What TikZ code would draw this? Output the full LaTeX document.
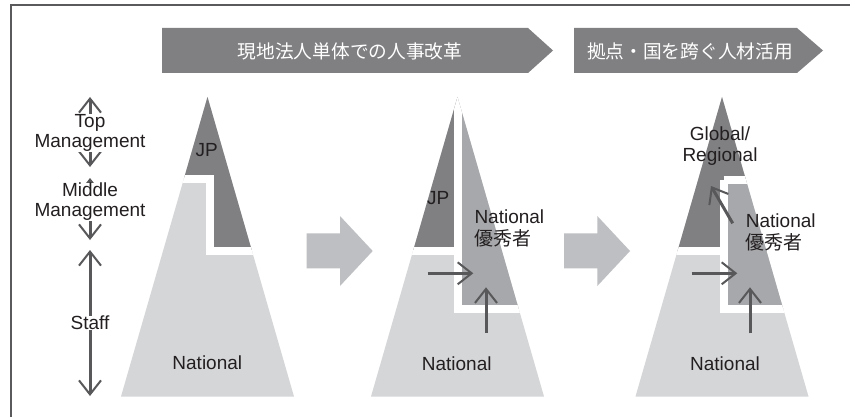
\documentclass[tikz,border=0pt]{standalone}
\usepackage{fontspec}
\setmainfont{Liberation Sans}
\newfontfamily\cjk{Noto Sans CJK JP}
\usetikzlibrary{arrows.meta}
\definecolor{dk}{RGB}{128,128,131}
\definecolor{md}{RGB}{167,168,171}
\definecolor{lt}{RGB}{213,214,216}
\definecolor{blk}{RGB}{190,191,194}
\definecolor{ar}{RGB}{88,88,90}
\definecolor{txt}{RGB}{35,31,32}
\definecolor{frame}{RGB}{90,90,92}
\tikzset{
  lbl/.style={font=\fontsize{19}{21}\selectfont, text=txt, inner sep=0pt, align=center},
  lbll/.style={font=\fontsize{19}{22}\selectfont, text=txt, inner sep=0pt, align=left, anchor=west},
  axlbl/.style={font=\fontsize{19}{20}\selectfont, text=txt, fill=white, inner sep=0.5pt, align=center},
  bannertext/.style={font=\cjk\fontsize{18.7}{20}\selectfont, text=white, inner sep=0pt},
  barb/.tip={Straight Barb[length=14pt,width=22pt,line width=2pt]},
  arr/.style={draw=ar, line width=3pt, -barb},
  axarr/.style={draw=ar, line width=3pt, barb-barb},
  gap/.style={draw=white, line width=8pt, line join=miter},
}
\begin{document}
\begin{tikzpicture}[x=1pt,y=-1pt]
\useasboundingbox (0,0) rectangle (850,417);
\fill[white] (0,0) rectangle (850,417);
% frame
\draw[frame, line width=1.5pt] (11,417) -- (11,5) -- (850,5);
% banners
\fill[dk] (162,28) -- (528,28) -- (553,50.5) -- (528,73) -- (162,73) -- cycle;
\fill[dk] (574,28) -- (797,28) -- (823,50.5) -- (797,73) -- (574,73) -- cycle;
\node[bannertext] (b1) at (350,51) {現地法人単体での人事改革};
\node[bannertext] (b2) at (690,51) {拠点・国を跨ぐ人材活用};
% block arrows
\fill[blk] (306.7,233.3) -- (340,233.3) -- (340,216) -- (372.7,251) -- (340,286) -- (340,268.3) -- (306.7,268.3) -- cycle;
\fill[blk] (564,233.3) -- (597.3,233.3) -- (597.3,216) -- (630,251) -- (597.3,286) -- (597.3,268.3) -- (564,268.3) -- cycle;
% pyramid 1
\begin{scope}
\clip (207.5,97) -- (121,396.5) -- (294,396.5) -- cycle;
\fill[lt] (100,80) rectangle (320,400);
\fill[dk] (100,80) -- (100,178.5) -- (209.5,178.5) -- (209.5,251) -- (320,251) -- (320,80) -- cycle;
\draw[gap] (100,178.5) -- (209.5,178.5) -- (209.5,251) -- (320,251);
\end{scope}
% pyramid 2
\begin{scope}
\clip (457.5,97) -- (371,396.5) -- (544,396.5) -- cycle;
\fill[lt] (350,80) rectangle (570,400);
\fill[dk] (350,80) rectangle (457.5,251);
\fill[md] (457.5,80) rectangle (570,309);
\draw[gap] (350,251) -- (457.5,251);
\draw[gap] (457.5,80) -- (457.5,309) -- (570,309);
\end{scope}
% pyramid 3
\begin{scope}
\clip (722,97) -- (635.5,396.5) -- (808.5,396.5) -- cycle;
\fill[lt] (610,80) rectangle (830,400);
\fill[dk] (610,80) -- (610,251) -- (723.5,251) -- (723.5,180) -- (830,180) -- (830,80) -- cycle;
\fill[md] (723.5,180) rectangle (830,309);
\draw[gap] (610,251) -- (723.5,251);
\draw[gap] (723.5,180) -- (723.5,309) -- (830,309);
\draw[gap] (723.5,180) -- (830,180);
\end{scope}
% labels pyramid 1
\node[lbl] (jp1) at (206.7,150) {JP};
\node[lbl] (nat1) at (207.3,362.7) {National};
% labels pyramid 2
\node[lbl] (jp2) at (438.3,198.3) {JP};
\node[lbll] (nx2) at (474.3,228.3) {National\\{\cjk 優秀者}};
\node[lbl] (nat2) at (456.7,363.3) {National};
% labels pyramid 3
\node[lbl] (gr3) at (720,146) {Global/\\Regional};
\node[lbll] (nx3) at (745.7,232.5) {National\\{\cjk 優秀者}};
\node[lbl] (nat3) at (725,363.3) {National};
% small arrows
\coordinate (h2a) at (427.7,273.3); \coordinate (h2b) at (473.3,273.3);
\coordinate (v2a) at (486,332.7); \coordinate (v2b) at (486,287.3);
\coordinate (h3a) at (691.7,273.3); \coordinate (h3b) at (737.3,273.3);
\coordinate (v3a) at (750,333.3); \coordinate (v3b) at (750,287.3);
\coordinate (d3a) at (732.7,223.3); \coordinate (d3b) at (711,186);
\draw[arr] (h2a) -- (h2b);
\draw[arr] (v2a) -- (v2b);
\draw[arr] (h3a) -- (h3b);
\draw[arr] (v3a) -- (v3b);
\draw[arr] (d3a) -- (d3b);
% left axis
\coordinate (t1) at (90,97); \coordinate (t2) at (90,167);
\coordinate (m1) at (90,178); \coordinate (m2) at (90,240);
\coordinate (s1) at (90,250); \coordinate (s2) at (90,396);
\draw[axarr] (t1) -- (t2);
\draw[axarr] (m1) -- (m2);
\draw[axarr] (s1) -- (s2);
\node[axlbl] (top) at (90,133) {Top\\Management};
\node[axlbl] (mid) at (90,202) {Middle\\Management};
\node[axlbl] (staff) at (90,323) {Staff};
\end{tikzpicture}
\end{document}
